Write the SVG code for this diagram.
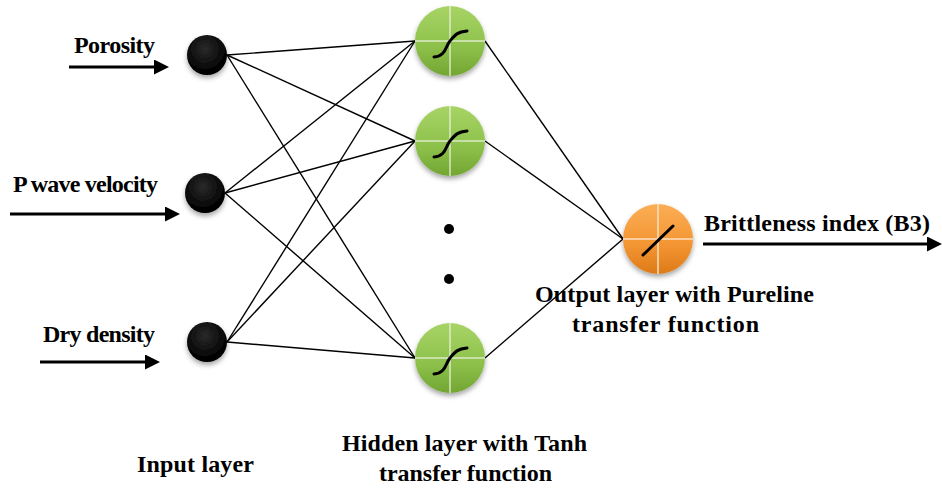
<svg xmlns="http://www.w3.org/2000/svg" width="942" height="489" viewBox="0 0 942 489">
<style>
text{font-family:"Liberation Serif","Times New Roman",serif;font-weight:bold;font-size:24px;fill:#000}
.c{stroke:#000;stroke-width:1.4;fill:none}
.a{stroke:#000;stroke-width:3;fill:none}
.x{stroke:#e8f0dc;stroke-width:1.5;opacity:0.85}
.s{stroke:#000;stroke-width:3;fill:none;stroke-linecap:round}
</style>
<defs>
<marker id="ah" markerWidth="5" markerHeight="5" refX="1" refY="2.5" orient="auto" markerUnits="strokeWidth">
<path d="M0,0 L5,2.5 L0,5 Z" fill="#000"/>
</marker>
<radialGradient id="gb" cx="0.45" cy="0.35" r="0.65">
<stop offset="0" stop-color="#2a2a2a"/>
<stop offset="0.8" stop-color="#050505"/>
<stop offset="1" stop-color="#000"/>
</radialGradient>
<linearGradient id="gg" x1="0" y1="0" x2="0" y2="1">
<stop offset="0" stop-color="#a8d466"/>
<stop offset="0.6" stop-color="#8cc04a"/>
<stop offset="1" stop-color="#72a532"/>
</linearGradient>
<linearGradient id="go" x1="0" y1="0" x2="0" y2="1">
<stop offset="0" stop-color="#fbae55"/>
<stop offset="0.6" stop-color="#f39432"/>
<stop offset="1" stop-color="#dd7a18"/>
</linearGradient>
<filter id="sh" x="-30%" y="-30%" width="160%" height="160%">
<feDropShadow dx="0" dy="3" stdDeviation="2.5" flood-color="#000" flood-opacity="0.35"/>
</filter>
</defs>

<g id="connectors">
<line class="c" x1="227" y1="55" x2="415" y2="41"/>
<line class="c" x1="227" y1="55" x2="415" y2="141"/>
<line class="c" x1="227" y1="55" x2="415" y2="358"/>
<line class="c" x1="225" y1="193" x2="415" y2="41"/>
<line class="c" x1="225" y1="193" x2="415" y2="141"/>
<line class="c" x1="225" y1="193" x2="415" y2="358"/>
<line class="c" x1="227" y1="342" x2="415" y2="41"/>
<line class="c" x1="227" y1="342" x2="415" y2="141"/>
<line class="c" x1="227" y1="342" x2="415" y2="358"/>
<line class="c" x1="485" y1="41" x2="623" y2="239"/>
<line class="c" x1="485" y1="141" x2="623" y2="239"/>
<line class="c" x1="485" y1="358" x2="623" y2="239"/>
<line class="a" x1="69" y1="67" x2="157" y2="67" marker-end="url(#ah)"/>
<line class="a" x1="10" y1="214" x2="168" y2="214" marker-end="url(#ah)"/>
<line class="a" x1="40" y1="362" x2="148" y2="362" marker-end="url(#ah)"/>
<line class="a" x1="703" y1="244" x2="930" y2="244" marker-end="url(#ah)"/>
</g>

<g id="in1"><circle cx="207" cy="55" r="20" fill="url(#gb)" filter="url(#sh)"/></g>
<g id="in2"><circle cx="205" cy="193" r="20" fill="url(#gb)" filter="url(#sh)"/></g>
<g id="in3"><circle cx="207" cy="342" r="20" fill="url(#gb)" filter="url(#sh)"/></g>

<g id="h1">
<circle cx="450" cy="41" r="35" fill="url(#gg)" filter="url(#sh)"/>
<line class="x" x1="415" y1="41" x2="485" y2="41"/><line class="x" x1="450" y1="6" x2="450" y2="76"/>
<path class="s" d="M434,57 C446,56 445,47 450,41 C455,35 457,32 467,31"/>
</g>
<g id="h2">
<circle cx="450" cy="141" r="35" fill="url(#gg)" filter="url(#sh)"/>
<line class="x" x1="415" y1="141" x2="485" y2="141"/><line class="x" x1="450" y1="106" x2="450" y2="176"/>
<path class="s" d="M434,157 C446,156 445,147 450,141 C455,135 457,132 467,131"/>
</g>
<g id="h3">
<circle cx="450" cy="358" r="35" fill="url(#gg)" filter="url(#sh)"/>
<line class="x" x1="415" y1="358" x2="485" y2="358"/><line class="x" x1="450" y1="323" x2="450" y2="393"/>
<path class="s" d="M434,374 C446,373 445,364 450,358 C455,352 457,349 467,348"/>
</g>
<g id="dots">
<circle cx="449" cy="229" r="5" fill="#000"/>
<circle cx="449" cy="279" r="5" fill="#000"/>
</g>
<g id="out">
<circle cx="658" cy="239" r="35" fill="url(#go)" filter="url(#sh)"/>
<line x1="623" y1="239" x2="693" y2="239" stroke="#fde0c0" stroke-width="1.5"/><line x1="658" y1="204" x2="658" y2="274" stroke="#fde0c0" stroke-width="1.5"/>
<line class="s" x1="643" y1="255" x2="673" y2="226"/>
</g>

<g id="labels">
<text x="74" y="53" textLength="81">Porosity</text>
<text x="13" y="192" textLength="145">P wave velocity</text>
<text x="43" y="342" textLength="112">Dry density</text>
<text x="704" y="231" textLength="226">Brittleness index (B3)</text>
<text x="535" y="302" textLength="279">Output layer with Pureline</text>
<text x="572" y="332" textLength="187">transfer function</text>
<text x="342" y="451" textLength="245">Hidden layer with Tanh</text>
<text x="379" y="481" textLength="173">transfer function</text>
<text x="137" y="472" textLength="117">Input layer</text>
</g>
</svg>
